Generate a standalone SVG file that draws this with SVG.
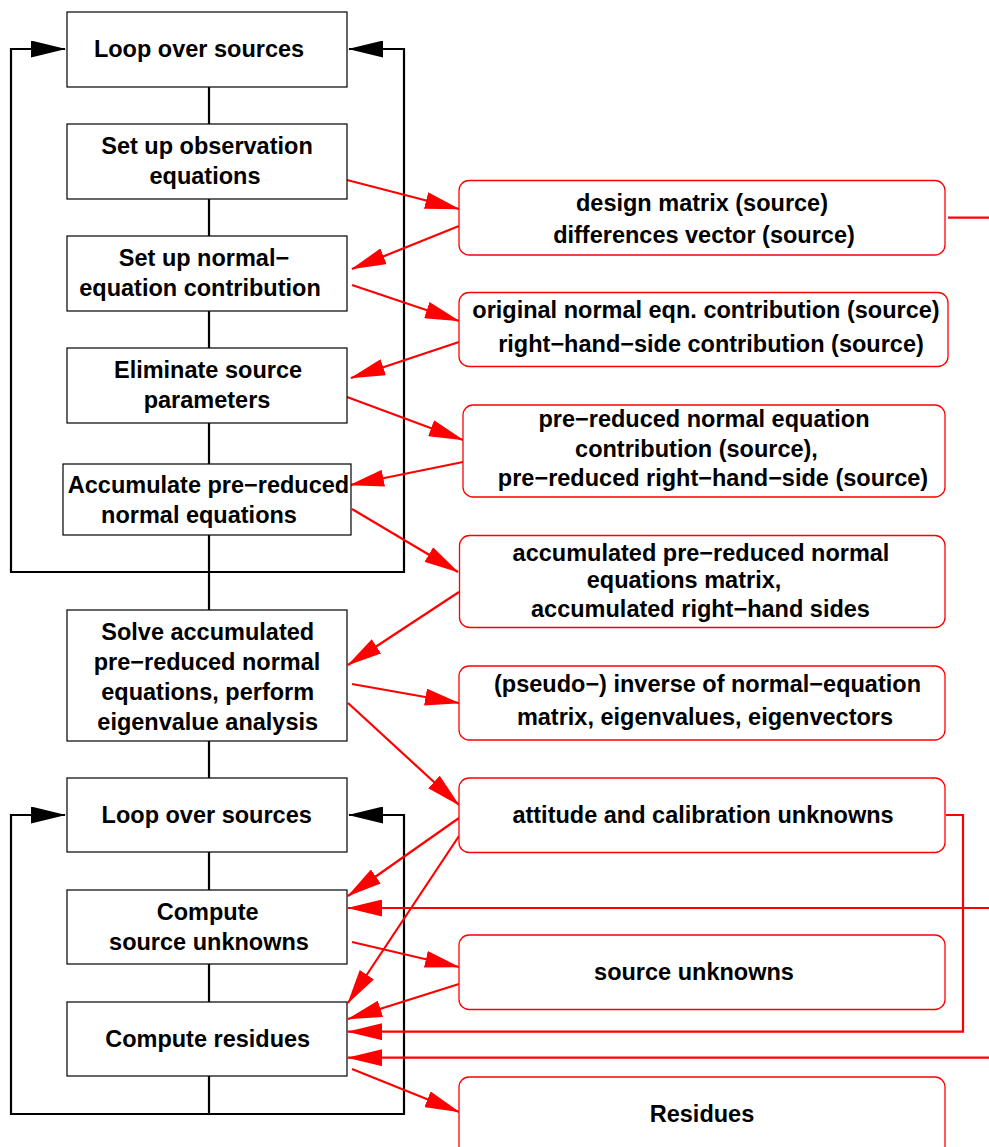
<svg xmlns="http://www.w3.org/2000/svg" width="989" height="1147" viewBox="0 0 989 1147">
<style>
text{font-family:"Liberation Sans",Arial,sans-serif;font-weight:bold;font-size:23.5px;fill:#000;text-anchor:middle}
.box{fill:#fff;stroke:#000;stroke-width:1.2}
.rbox{fill:#fff;stroke:#ff0000;stroke-width:1.3}
.blk{fill:none;stroke:#000;stroke-width:2.2}
.red{fill:none;stroke:#ff0000;stroke-width:2.2}
.ra{marker-end:url(#ah-red)}
.ba{marker-end:url(#ah-blk)}
</style>
<defs>
<marker id="ah-red" viewBox="0 0 35 17" refX="34" refY="8.5" markerWidth="35" markerHeight="17" markerUnits="userSpaceOnUse" orient="auto"><path d="M0,0 L35,8.5 L0,17 z" fill="#ff0000"/></marker>
<marker id="ah-blk" viewBox="0 0 35 17" refX="34" refY="8.5" markerWidth="35" markerHeight="17" markerUnits="userSpaceOnUse" orient="auto"><path d="M0,0 L35,8.5 L0,17 z" fill="#000"/></marker>
</defs>
<g id="connectors">
<path class="blk" d="M209,87V124M209,199V236M209,311V348M209,423V464M209,535V610M209,741V778M209,852V890M209,964V1002M209,1076V1114"/>
<path class="blk ba" d="M209,572H11V49H65"/>
<path class="blk ba" d="M209,572H404V49H349"/>
<path class="blk ba" d="M209,1114H11V815H65"/>
<path class="blk ba" d="M209,1114H404V815H349"/>
<path class="red ra" d="M347,180L459,209"/>
<path class="red ra" d="M459,226L352,269"/>
<path class="red ra" d="M352,285L459,321"/>
<path class="red ra" d="M459,342L351,378"/>
<path class="red ra" d="M347,397L463,440"/>
<path class="red ra" d="M463,462L350,485"/>
<path class="red ra" d="M352,509L458,572"/>
<path class="red ra" d="M459,592L348,665"/>
<path class="red ra" d="M352,684L459,703"/>
<path class="red ra" d="M348,703L459,805"/>
<path class="red ra" d="M459,818L348,896"/>
<path class="red ra" d="M459,836L348,1003"/>
<path class="red ra" d="M989,908H348"/>
<path class="red ra" d="M352,942L459,967"/>
<path class="red ra" d="M459,984L348,1019"/>
<path class="red ra" d="M946,815H963V1031.7H348"/>
<path class="red ra" d="M989,1057.7H348"/>
<path class="red ra" d="M352,1069L459,1112"/>
<path class="red" d="M948,217.7H989"/>
</g>
<g id="n-loop1"><rect class="box" x="67" y="12" width="280" height="75"/><text x="199" y="57">Loop over sources</text></g>
<g id="n-obs"><rect class="box" x="67" y="124" width="280" height="75"/><text x="207" y="154">Set up observation</text><text x="205" y="184">equations</text></g>
<g id="n-normal"><rect class="box" x="67" y="236" width="280" height="75"/><text x="204" y="266">Set up normal−</text><text x="200" y="296">equation contribution</text></g>
<g id="n-elim"><rect class="box" x="67" y="348" width="280" height="75"/><text x="208" y="378">Eliminate source</text><text x="207" y="408">parameters</text></g>
<g id="n-accum"><rect class="box" x="63" y="464" width="288" height="71"/><text x="208.5" y="493">Accumulate pre−reduced</text><text x="199" y="523">normal equations</text></g>
<g id="n-solve"><rect class="box" x="67" y="610" width="280" height="131"/><text x="207.7" y="640">Solve accumulated</text><text x="207" y="670">pre−reduced normal</text><text x="207.7" y="700">equations, perform</text><text x="207.7" y="730">eigenvalue analysis</text></g>
<g id="n-loop2"><rect class="box" x="67" y="778" width="280" height="74"/><text x="206.7" y="823">Loop over sources</text></g>
<g id="n-compsrc"><rect class="box" x="67" y="890" width="280" height="74"/><text x="207.7" y="920">Compute</text><text x="209" y="950">source unknowns</text></g>
<g id="n-compres"><rect class="box" x="67" y="1002" width="280" height="74"/><text x="207.7" y="1047">Compute residues</text></g>
<g id="r-design"><rect class="rbox" x="459" y="180.5" width="486" height="74.5" rx="10"/><text x="702" y="211">design matrix (source)</text><text x="704" y="243">differences vector (source)</text></g>
<g id="r-orig"><rect class="rbox" x="459" y="292.5" width="489" height="74" rx="10"/><text x="706" y="318">original normal eqn. contribution (source)</text><text x="711" y="352">right−hand−side contribution (source)</text></g>
<g id="r-prered"><rect class="rbox" x="463" y="405" width="482" height="92" rx="10"/><text x="704" y="427">pre−reduced normal equation</text><text x="696.5" y="457">contribution (source),</text><text x="713" y="486">pre−reduced right−hand−side (source)</text></g>
<g id="r-accum"><rect class="rbox" x="459.5" y="535.5" width="485.5" height="92" rx="10"/><text x="701" y="561">accumulated pre−reduced normal</text><text x="684" y="588">equations matrix,</text><text x="700.5" y="617">accumulated right−hand sides</text></g>
<g id="r-inverse"><rect class="rbox" x="459" y="666" width="486" height="74" rx="10"/><text x="707.5" y="692">(pseudo−) inverse of normal−equation</text><text x="705" y="725">matrix, eigenvalues, eigenvectors</text></g>
<g id="r-attitude"><rect class="rbox" x="459" y="778" width="486" height="74.5" rx="10"/><text x="703" y="823">attitude and calibration unknowns</text></g>
<g id="r-srcunk"><rect class="rbox" x="459" y="935" width="486" height="74.5" rx="10"/><text x="694" y="980">source unknowns</text></g>
<g id="r-resid"><rect class="rbox" x="459" y="1077" width="486" height="85" rx="10"/><text x="702" y="1122">Residues</text></g>
</svg>
